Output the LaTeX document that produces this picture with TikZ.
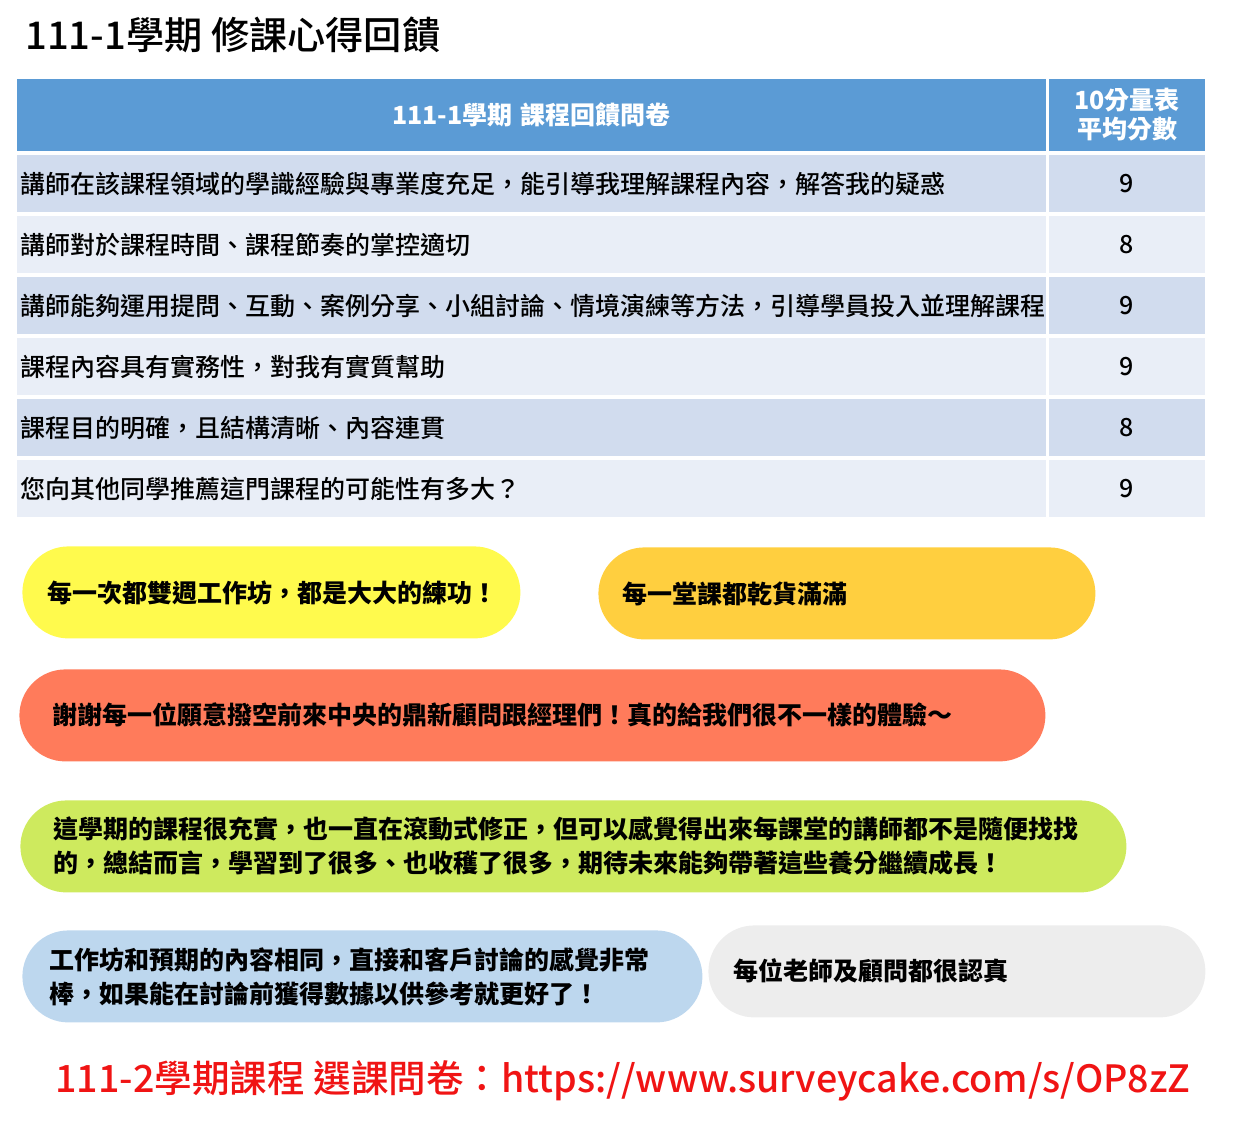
\documentclass[tikz,border=0pt]{standalone}
\usepackage{fontspec}
\setmainfont{Noto Sans CJK TC}
\newfontfamily\medfont{Noto Sans CJK TC Medium}
\usetikzlibrary{positioning}

\definecolor{headblue}{HTML}{5B9BD5}
\definecolor{rowa}{HTML}{D1DCEE}
\definecolor{rowb}{HTML}{E9EEF7}
\definecolor{byellow}{HTML}{FFFA4D}
\definecolor{bgold}{HTML}{FFCF3F}
\definecolor{bcoral}{HTML}{FF7B5B}
\definecolor{bgreen}{HTML}{CEEA5E}
\definecolor{bblue}{HTML}{BDD7EE}
\definecolor{bgray}{HTML}{EDEDED}
\definecolor{linkred}{HTML}{F01414}

\tikzset{
  cell/.style={inner xsep=1.5pt, inner ysep=0pt, outer sep=0pt, minimum height=28.5pt,
    font=\fontsize{12.5pt}{14.5pt}\medfont},
  qcell/.style={cell, text width=511.5pt, align=left},
  scell/.style={cell, minimum width=78pt, align=center},
  headcell/.style={fill=headblue, text=white, minimum height=36pt,
    font=\fontsize{12.5pt}{14.5pt}\bfseries\selectfont},
  bubble/.style={rounded corners=23pt, minimum height=46pt, inner ysep=0pt,
    anchor=north west, align=left, font=\fontsize{12.5pt}{17pt}\bfseries\selectfont}
}

\begin{document}
\begin{tikzpicture}[x=0.5pt,y=-0.5pt]
   \useasboundingbox (0,0) rectangle (1252,1126);

   \node[anchor=west, inner sep=0pt, font=\fontsize{19.1pt}{22pt}\medfont] (title) at (25,35) {111-1學期 修課心得回饋};

   % table
   \node[qcell, headcell, align=center, anchor=north west] (q0) at (17,79) {111-1學期 課程回饋問卷};
   \node[scell, headcell, right=1.5pt of q0] (s0) {10分量表\\平均分數};
   \foreach \q/\s/\c [count=\n, remember=\n as \p (initially 0)] in {
      {講師在該課程領域的學識經驗與專業度充足，能引導我理解課程內容，解答我的疑惑}/9/rowa,
      {講師對於課程時間、課程節奏的掌控適切}/8/rowb,
      {講師能夠運用提問、互動、案例分享、小組討論、情境演練等方法，引導學員投入並理解課程}/9/rowa,
      {課程內容具有實務性，對我有實質幫助}/9/rowb,
      {課程目的明確，且結構清晰、內容連貫}/8/rowa,
      {您向其他同學推薦這門課程的可能性有多大？}/9/rowb}
   {
      \node[qcell, fill=\c, below=2pt of q\p] (q\n) {\q};
      \node[scell, fill=\c, right=1.5pt of q\n] (s\n) {\s};
   }

   % comments
   \node[bubble, fill=byellow, inner xsep=12.5pt, text width=224pt] (b1) at (22,546) {每一次都雙週工作坊，都是大大的練功！};
   \node[bubble, fill=bgold, inner xsep=12pt, text width=224.5pt] (b2) at (598,547) {每一堂課都乾貨滿滿};
   \node[bubble, fill=bcoral, inner xsep=16.5pt, text width=480pt] (b3) at (19,669) {謝謝每一位願意撥空前來中央的鼎新顧問跟經理們！真的給我們很不一樣的體驗～};
   \node[bubble, fill=bgreen, inner xsep=16.5pt, text width=520pt] (b4) at (20,800) {這學期的課程很充實，也一直在滾動式修正，但可以感覺得出來每課堂的講師都不是隨便找找\\的，總結而言，學習到了很多、也收穫了很多，期待未來能夠帶著這些養分繼續成長！};
   \node[bubble, fill=bblue, inner xsep=13.5pt, text width=313pt] (b5) at (22,930) {工作坊和預期的內容相同，直接和客戶討論的感覺非常\\棒，如果能在討論前獲得數據以供參考就更好了！};
   \node[bubble, fill=bgray, inner xsep=12.5pt, text width=223.5pt] (b6) at (708,925) {每位老師及顧問都很認真};

   \node[anchor=west, inner sep=0pt, text=linkred, font=\fontsize{18.8pt}{22pt}\medfont] (link) at (55,1081) {111-2學期課程 選課問卷：https://www.surveycake.com/s/OP8zZ};
\end{tikzpicture}
\end{document}
